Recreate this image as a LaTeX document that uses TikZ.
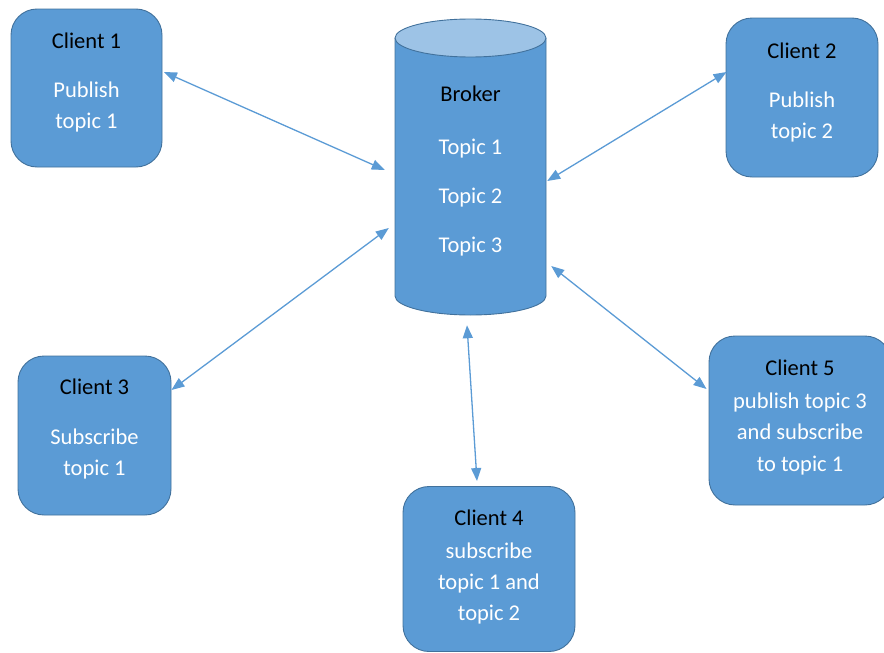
\documentclass[tikz,border=0pt]{standalone}
\usepackage{fontspec}
\setmainfont{Carlito}
\usetikzlibrary{arrows.meta,calc}
\definecolor{boxfill}{HTML}{5B9BD5}
\definecolor{boxline}{HTML}{41719C}
\definecolor{captop}{HTML}{9DC3E6}
\definecolor{link}{HTML}{5B9BD5}
\tikzset{
  client/.style={draw=boxline, line width=0.9pt, fill=boxfill, rounded corners=26pt,
    inner sep=0pt},
  title/.style={anchor=base, inner sep=0pt, text=black, font=\fontsize{22.5}{27}\selectfont},
  body/.style={anchor=base, inner sep=0pt, text=white, font=\fontsize{22.5}{27}\selectfont},
  link/.style={draw=link, line width=1.3pt,
    {Triangle[length=13pt,width=10pt]}-{Triangle[length=13pt,width=10pt]}},
}
\begin{document}
\begin{tikzpicture}[x=1pt,y=-1pt]
\useasboundingbox (0,0) rectangle (884,653);

% client boxes (pixel coordinates, y grows downwards)
\node[client, minimum width=151pt, minimum height=158pt] (c1) at (86.5,88) {};
\node[client, minimum width=152pt, minimum height=159pt] (c2) at (802,97.5) {};
\node[client, minimum width=153pt, minimum height=159pt] (c3) at (94.5,435.5) {};
\node[client, minimum width=172pt, minimum height=165pt] (c4) at (489,569) {};
\node[client, minimum width=182pt, minimum height=169pt] (c5) at (800,420.5) {};

% broker cylinder
\node[inner sep=0pt, minimum width=151pt, minimum height=258pt] (broker) at (470.5,167) {};
\fill[boxfill] (395,38) -- (395,296) arc[start angle=180, end angle=360, x radius=75.5, y radius=-19]
  -- (546,38) -- cycle;
\draw[boxline, line width=0.9pt] (395,38) -- (395,296)
  arc[start angle=180, end angle=360, x radius=75.5, y radius=-19] -- (546,38);
\draw[boxline, line width=0.9pt, fill=captop] (470.5,38) ellipse[x radius=75.5, y radius=19];

% texts
\node[title] (t1) at (86.5,48) {Client 1};
\node[body] (t1a) at (86.5,97) {Publish};
\node[body] (t1b) at (86.5,128.5) {topic 1};

\node[title] (t2) at (802,58) {Client 2};
\node[body] (t2a) at (802,107) {Publish};
\node[body] (t2b) at (802,138) {topic 2};

\node[title] (t3) at (94.5,394) {Client 3};
\node[body] (t3a) at (94.5,444) {Subscribe};
\node[body] (t3b) at (94.5,475) {topic 1};

\node[title] (t4) at (489,525) {Client 4};
\node[body] (t4a) at (489,558) {subscribe};
\node[body] (t4b) at (489,589) {topic 1 and};
\node[body] (t4c) at (489,620) {topic 2};

\node[title] (t5) at (800,375) {Client 5};
\node[body] (t5a) at (800,408) {publish topic 3};
\node[body] (t5b) at (800,439.5) {and subscribe};
\node[body] (t5c) at (800,471) {to topic 1};

\node[title] (tb) at (470.5,101) {Broker};
\node[body] (tb1) at (470.5,154) {Topic 1};
\node[body] (tb2) at (470.5,203) {Topic 2};
\node[body] (tb3) at (470.5,252) {Topic 3};

% connections between clients and broker
\draw[link] ([shift={(1.5,-16)}]c1.east) -- ([shift={(-10,3)}]broker.west);
\draw[link] ([shift={(1,-25.5)}]c2.west) -- ([shift={(1,14)}]broker.east);
\draw[link] ([shift={(0,-45.5)}]c3.east) -- ([shift={(-6,61)}]broker.west);
\draw[link] ([shift={(-12,-5)}]c4.north) -- ([shift={(-3.5,29)}]broker.south);
\draw[link] ([shift={(-2,-31.5)}]c5.west) -- ([shift={(5,99)}]broker.east);
\end{tikzpicture}
\end{document}
